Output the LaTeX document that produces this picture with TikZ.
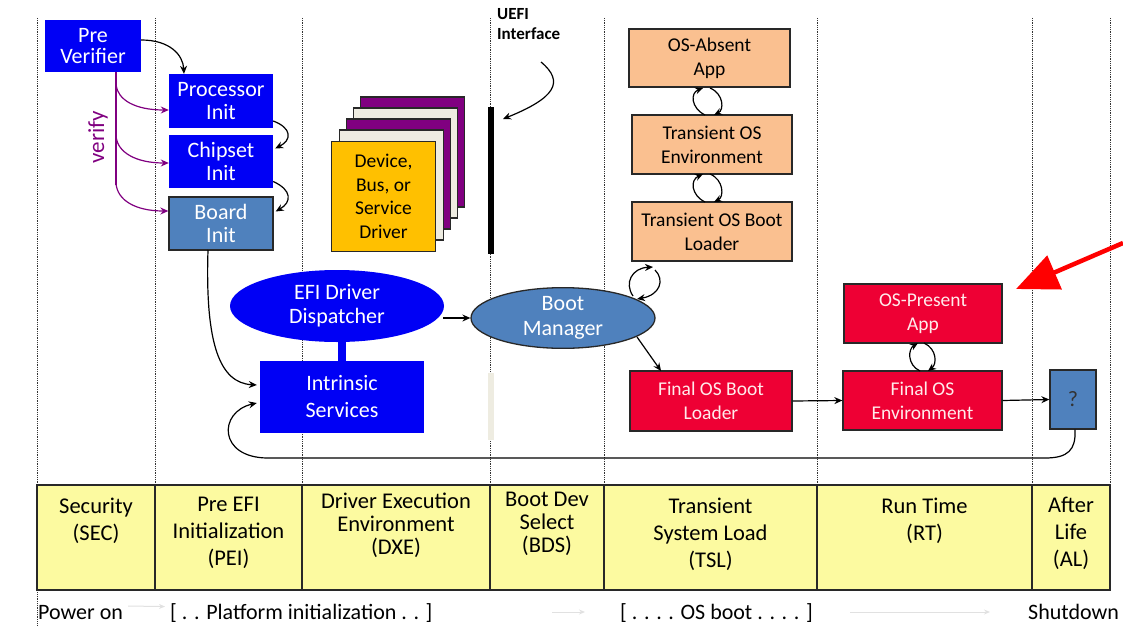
\documentclass[tikz,border=0pt]{standalone}
\usepackage{fontspec}
\setmainfont{Carlito}
\usetikzlibrary{arrows.meta,shapes.geometric,calc}
\definecolor{pblue}{RGB}{0,0,245}
\definecolor{sblue}{RGB}{79,129,189}
\definecolor{peach}{RGB}{250,192,144}
\definecolor{ored}{RGB}{238,0,52}
\definecolor{tyellow}{RGB}{252,250,160}
\definecolor{dyellow}{RGB}{255,192,0}
\definecolor{vpurple}{RGB}{128,0,128}
\definecolor{cream}{RGB}{238,236,225}
\definecolor{edge}{RGB}{40,40,40}
\definecolor{lgray}{RGB}{225,225,225}
\tikzset{
  box/.style={rectangle,inner sep=0pt,align=center,font=\fontsize{22}{23}\selectfont},
  bluebox/.style={box,fill=pblue,text=white},
  sbox/.style={box,fill=sblue,draw=edge,line width=1.3pt,text=white},
  peachbox/.style={box,fill=peach,draw=edge,line width=1.3pt,font=\fontsize{19.5}{24}\selectfont},
  redbox/.style={box,fill=ored,draw=edge,line width=1.3pt,text=white!92!red,font=\fontsize{19.5}{24}\selectfont},
  layer/.style={rectangle,inner sep=0pt,draw=edge,line width=1.3pt,minimum width=104pt,minimum height=110pt},
  cell/.style={rectangle,draw=edge,line width=1.3pt,fill=tyellow,inner sep=0pt,minimum height=105pt},
  celltext/.style={anchor=north,align=center,inner sep=0pt,font=\fontsize{22.5}{27}\selectfont},
  phase/.style={densely dotted,line width=0.8pt,color=black!80},
  conn/.style={-{Stealth[length=8pt,width=7pt]},line width=1.2pt},
  vconn/.style={-{Stealth[length=8pt,width=7pt]},line width=1.2pt,color=vpurple},
  glarrow/.style={-{Stealth[length=6pt,width=5pt]},line width=1pt,color=lgray},
  bottomtext/.style={anchor=base west,inner sep=0pt,font=\fontsize{22}{23}\selectfont}
}
\begin{document}
\begin{tikzpicture}[x=1pt,y=-1pt]
\useasboundingbox (0,0) rectangle (1123,626);
% phase dotted lines
\foreach \x in {155,302,490,604,817,1032,1110}{\draw[phase] (\x,18) -- (\x,485);}
\draw[phase] (37,18) -- (37,626);

% SEC / PEI
\node[bluebox,minimum width=96pt,minimum height=52pt,font=\fontsize{22}{21}\selectfont] (pv) at (93,46) {Pre\\Verifier};
\node[bluebox,minimum width=104pt,minimum height=54pt] (proc) at (221,101) {Processor\\Init};
\node[bluebox,minimum width=104pt,minimum height=53pt] (chip) at (221,161.5) {Chipset\\Init};
\node[sbox,minimum width=104pt,minimum height=53pt] (board) at (221,223.5) {Board\\Init};

\draw[conn] (pv.east) ++(0,-6) coordinate (pvA) .. controls (170,40) and (183,55) .. (proc.north west -| 184,0);
\draw[conn] ($(proc.east)+(0,20)$) .. controls (292,128) and (292,140) .. ($(chip.east)+(2,-13)$);
\draw[conn] ($(chip.east)+(0,20)$) .. controls (292,190) and (292,202) .. ($(board.east)+(2,-12)$);

% verify
\coordinate (vtop) at (116,72);
\draw[line width=1.2pt,color=vpurple] (vtop) -- (116,185);
\draw[vconn] (116,85) .. controls (118,100) and (135,110) .. (proc.west |- 0,110);
\draw[vconn] (116,137) .. controls (118,152) and (135,163) .. (chip.west |- 0,163);
\draw[vconn] (116,183) .. controls (117,200) and (135,211) .. (board.west |- 0,211);
\node[rotate=90,text=vpurple,font=\fontsize{23}{24}\selectfont,inner sep=0pt] (verify) at (98,137) {verify};

% DXE driver stack
\node[layer,fill=vpurple] (l5) at (412.5,152) {};
\node[layer,fill=cream] (l4) at (405.5,163) {};
\node[layer,fill=vpurple] (l3) at (398.5,174) {};
\node[layer,fill=cream] (l2) at (391.5,185) {};
\node[layer,fill=dyellow,align=center,font=\fontsize{19.5}{23.5}\selectfont] (drv) at (383.5,196.5) {Device,\\Bus, or\\Service\\Driver};

\node[ellipse,fill=pblue,text=white,inner sep=0pt,minimum width=214pt,minimum height=72pt,align=center,font=\fontsize{22}{24}\selectfont] (efi) at (337,306) {EFI Driver\\Dispatcher};
\node[bluebox,minimum width=164pt,minimum height=72pt,font=\fontsize{22}{27}\selectfont] (intr) at (342,397) {Intrinsic\\Services};
\fill[pblue] (338,340) rectangle (346,361);

% UEFI interface
\fill[black] (488,107) rectangle (494,254);
\fill[cream] (488,373) rectangle (494,440);
\node[anchor=north west,inner sep=0pt,font=\bfseries\fontsize{17}{20}\selectfont,align=left] (uefi) at (497,8) {UEFI\\Interface};
\coordinate (uefiA) at (541,62);
\coordinate (uefiB) at (503,119);
\draw[conn] (uefiA) .. controls (565,82) and (555,98) .. (uefiB);

% Boot manager
\node[ellipse,fill=sblue,draw=edge,line width=1.3pt,text=white,inner sep=0pt,minimum width=184pt,minimum height=56pt,align=center,font=\fontsize{22}{25}\selectfont] (bm) at (563,318) {Boot\\Manager};
\draw[conn] (443,318) -- (bm.west);

% TSL
\node[peachbox,minimum width=161pt,minimum height=58pt] (absent) at (709.5,58) {OS-Absent\\App};
\node[peachbox,minimum width=160pt,minimum height=59pt] (toe) at (712,144.5) {Transient OS\\Environment};
\node[peachbox,minimum width=160pt,minimum height=59pt] (tosbl) at (712,231.5) {Transient OS Boot\\Loader};
\node[redbox,minimum width=162pt,minimum height=60pt] (fobl) at (711,401) {Final OS Boot\\Loader};

% loops
\draw[conn] (705,115) .. controls (691,108) and (690,93) .. (703,88);
\draw[conn] (710,88) .. controls (724,94) and (724,110) .. (714,115);
\draw[conn] (705,202) .. controls (691,195) and (690,180) .. (703,174);
\draw[conn] (710,174) .. controls (724,180) and (724,197) .. (714,202);
\draw[conn] (633,296) .. controls (624,283) and (632,268) .. (653,267);
\draw[conn] (655,270) .. controls (665,280) and (660,295) .. (637,299);

\draw[conn] (637,337) -- (661,371);

% RT
\node[redbox,minimum width=158pt,minimum height=59pt] (ospa) at (923,313.5) {OS-Present\\App};
\node[redbox,minimum width=159pt,minimum height=59pt] (foe) at (922.5,400.5) {Final OS\\Environment};
\draw[conn] (920,371) .. controls (907,365) and (908,349) .. (918,343);
\draw[conn] (924,343) .. controls (937,349) and (937,364) .. (928,371);
\draw[conn] (fobl.east) -- (foe.west);

% AL
\node[sbox,minimum width=46pt,minimum height=59pt,text=black!80] (q) at (1073,399.5) {?};
\draw[conn] (foe.east) -- (q.west);
\draw[conn] ($(q.south)+(2,0)$) .. controls (1076,450) and (1068,458) .. (1045,458) -- (268,458) .. controls (218,458) and (218,412) .. ($(intr.west)+(-3,6)$);
\draw[conn] (208,250) .. controls (205,345) and (220,383) .. ($(intr.west)+(-3,-12)$);

% red pointer
\coordinate (rtail) at (1123,243);
\coordinate (rtip) at (1016,289);
\draw[-{Triangle[length=42pt,width=36pt]},line width=4.5pt,color=red] (rtail) -- (rtip);

% table
\node[cell,minimum width=118pt] (c1) at (96,537.5) {};
\node[cell,minimum width=147pt] (c2) at (228.5,537.5) {};
\node[cell,minimum width=188pt] (c3) at (396,537.5) {};
\node[cell,minimum width=114pt] (c4) at (547,537.5) {};
\node[cell,minimum width=213pt] (c5) at (710.5,537.5) {};
\node[cell,minimum width=215pt] (c6) at (924.5,537.5) {};
\node[cell,minimum width=78pt] (c7) at (1071,537.5) {};
\node[celltext] (t1) at ($(c1.north)+(0,13)$) {Security\\(SEC)};
\node[celltext] (t2) at ($(c2.north)+(0,13)$) {Pre EFI\\Initialization\\(PEI)};
\node[celltext,font=\fontsize{22.5}{23}\selectfont] (t3) at ($(c3.north)+(0,8)$) {Driver Execution\\Environment\\(DXE)};
\node[celltext,font=\fontsize{22.5}{23}\selectfont] (t4) at ($(c4.north)+(0,8)$) {Boot Dev\\Select\\(BDS)};
\node[celltext] (t5) at ($(c5.north)+(0,13)$) {Transient\\System Load\\(TSL)};
\node[celltext] (t6) at ($(c6.north)+(0,13)$) {Run Time\\(RT)};
\node[celltext] (t7) at ($(c7.north)+(0,13)$) {After\\Life\\(AL)};

% bottom line
\node[bottomtext] (pon) at (38,619) {Power on};
\node[bottomtext] (plat) at (170,619) {[ . . Platform initialization . . ]};
\node[bottomtext] (osb) at (620,619) {[ . . . . OS boot . . . . ]};
\node[bottomtext] (shut) at (1028,619) {Shutdown};
\draw[glarrow] ($(pon.east)+(5,-6)$) -- ($(plat.west)+(-5,-6)$);
\coordinate (g1a) at (552,612);
\coordinate (g1b) at (585,612);
\draw[glarrow] (g1a) -- (g1b);
\coordinate (g2a) at (850,612);
\coordinate (g2b) at (990,612);
\draw[glarrow] (g2a) -- (g2b);
\end{tikzpicture}
\end{document}
